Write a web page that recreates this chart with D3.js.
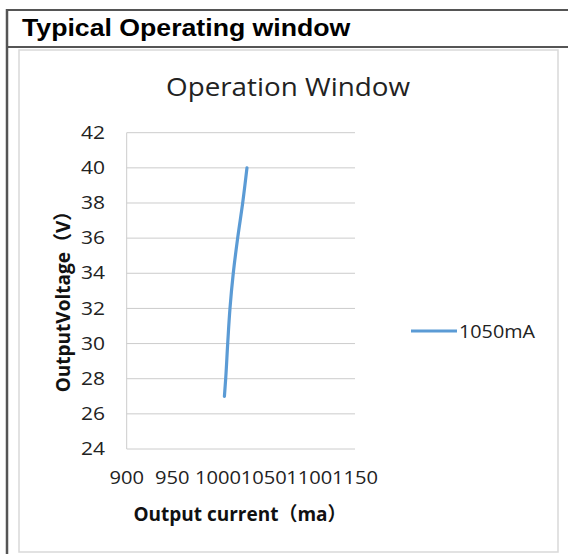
<!DOCTYPE html>
<html><head><meta charset="utf-8">
<script src="https://cdn.jsdelivr.net/npm/d3@7"></script>
<style>
html,body{margin:0;padding:0;background:#fff;}
svg{display:block;}
</style></head>
<body>
<script>
// Data
const seriesName = "1050mA";
const voltage = [27, 28, 30, 32, 34, 36, 38, 40];
const current = [1007, 1008.4, 1010.6, 1013.1, 1016.7, 1021.5, 1027, 1031.7];
const xTicks = [900, 950, 1000, 1050, 1100, 1150];
const yTicks = [24, 26, 28, 30, 32, 34, 36, 38, 40, 42];
const pageTitle = "Typical Operating window";
const chartTitle = "Operation Window";
const xTitle = "Output current（ma）";
const yTitle = "OutputVoltage（V）";

const W = 568, H = 554;
const font = "'Open Sans','Noto Sans CJK SC',sans-serif";
const svg = d3.select("body").append("svg").attr("width", W).attr("height", H);

function stext(x0, y0, sx, txt, opts) {
  const t = svg.append("text").attr("transform", `translate(${x0},${y0}) scale(${sx},1)`)
    .attr("x", 0).attr("y", 0).text(txt);
  Object.entries(opts).forEach(([k, v]) => t.attr(k, v));
  return t;
}

// outer frame
svg.append("rect").attr("x",0).attr("y",0).attr("width",W).attr("height",H).attr("fill","#fff");
svg.append("line").attr("x1",6).attr("x2",W).attr("y1",10).attr("y2",10).attr("stroke","#555").attr("stroke-width",2);
svg.append("line").attr("x1",6).attr("x2",W).attr("y1",47).attr("y2",47).attr("stroke","#555").attr("stroke-width",2);
svg.append("line").attr("x1",7).attr("x2",7).attr("y1",9).attr("y2",H).attr("stroke","#555").attr("stroke-width",2.5);
stext(22, 36, 1.16, pageTitle, {"font-family":"'Liberation Sans',Arial,sans-serif","font-weight":"bold","font-size":23,"fill":"#000"});

// chart frame
svg.append("rect").attr("x",19).attr("y",50).attr("width",539).attr("height",502)
  .attr("fill","#fff").attr("stroke","#d9d9d9").attr("stroke-width",1.5);

stext(288, 96, 1.07, chartTitle, {"text-anchor":"middle","font-family":font,"font-size":26,"fill":"#222"});

const x = d3.scaleLinear().domain([900,1150]).range([126.7,355]);
const y = d3.scaleLinear().domain([24,42]).range([449,132.7]);

// gridlines
svg.append("g").selectAll("line").data(yTicks).join("line")
  .attr("x1",x.range()[0]).attr("x2",x.range()[1]).attr("y1",d=>y(d)).attr("y2",d=>y(d))
  .attr("stroke","#cccccc").attr("stroke-width",1);
// y axis line
svg.append("line").attr("x1",x.range()[0]).attr("x2",x.range()[0]).attr("y1",y(42)).attr("y2",y(24))
  .attr("stroke","#cccccc").attr("stroke-width",1);

// y tick labels
svg.append("g").selectAll("text").data(yTicks).join("text")
  .attr("transform", d => `translate(105,${y(d)}) scale(1.2,1)`)
  .attr("text-anchor","end").attr("dy","0.35em")
  .attr("font-family",font).attr("font-size",17.5).attr("fill","#222")
  .text(d => d);

// x tick labels
svg.append("g").selectAll("text").data(xTicks).join("text")
  .attr("transform", d => `translate(${x(d)},484) scale(1.15,1)`)
  .attr("text-anchor","middle")
  .attr("font-family",font).attr("font-size",17.5).attr("fill","#222")
  .text(d3.format("d"));

// series
const pts = voltage.map((v,i)=>({v, c: current[i]}));
svg.append("path").datum(pts)
  .attr("d", d3.line().x(d=>x(d.c)).y(d=>y(d.v)).curve(d3.curveMonotoneY))
  .attr("fill","none").attr("stroke","#5b9bd5").attr("stroke-width",3.2).attr("stroke-linecap","round");

// axis titles
stext(240, 521, 1.0, xTitle, {"text-anchor":"middle","font-family":font,"font-weight":"bold","font-size":19,"fill":"#111"});
svg.append("text").attr("transform","translate(70,297) rotate(-90)").attr("text-anchor","middle").attr("font-family",font)
  .attr("font-weight","bold").attr("font-size",19).attr("fill","#111").text(yTitle);

// legend
svg.append("line").attr("x1",411).attr("x2",457).attr("y1",331).attr("y2",331)
  .attr("stroke","#5b9bd5").attr("stroke-width",3);
stext(459, 337.5, 1.04, seriesName, {"font-family":font,"font-size":19,"fill":"#222"});
</script>
</body></html>
